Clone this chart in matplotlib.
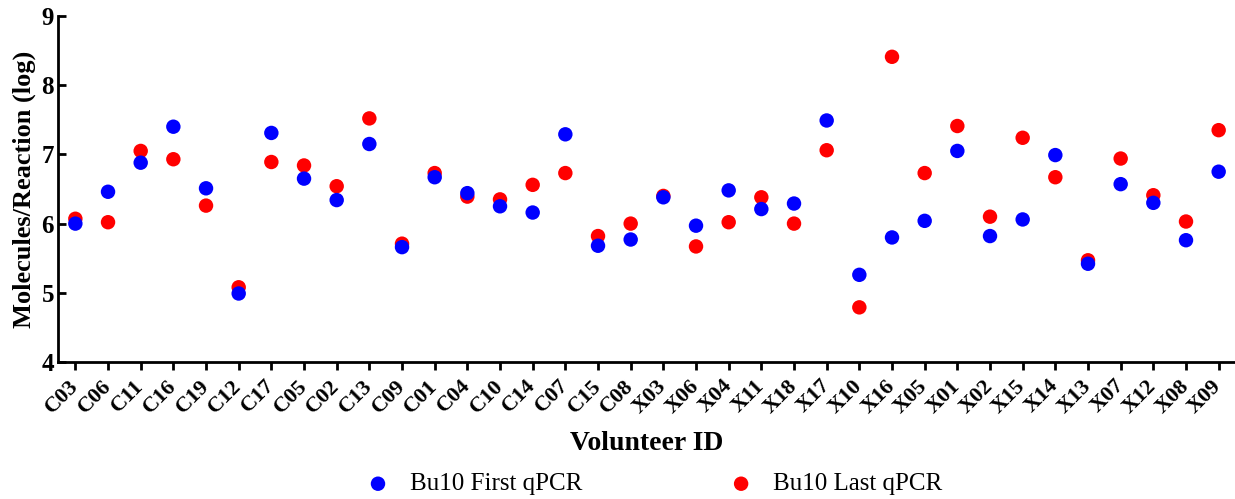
import matplotlib.pyplot as plt
import numpy as np

# Volunteer IDs in plotting order
volunteers = ['C03', 'C06', 'C11', 'C16', 'C19', 'C12', 'C17', 'C05', 'C02', 'C13',
              'C09', 'C01', 'C04', 'C10', 'C14', 'C07', 'C15', 'C08', 'X03', 'X06',
              'X04', 'X11', 'X18', 'X17', 'X10', 'X16', 'X05', 'X01', 'X02', 'X15',
              'X14', 'X13', 'X07', 'X12', 'X08', 'X09']

# log molecules per reaction
first_qpcr = [6.00, 6.46, 6.88, 7.40, 6.51, 4.99, 7.31, 6.65, 6.34, 7.15,
              5.66, 6.67, 6.44, 6.25, 6.16, 7.29, 5.68, 5.77, 6.38, 5.97,
              6.48, 6.21, 6.29, 7.49, 5.26, 5.80, 6.04, 7.05, 5.82, 6.06,
              6.99, 5.42, 6.57, 6.30, 5.76, 6.75]
last_qpcr = [6.07, 6.02, 7.05, 6.93, 6.26, 5.08, 6.89, 6.84, 6.54, 7.52,
             5.71, 6.73, 6.39, 6.35, 6.56, 6.73, 5.82, 6.00, 6.40, 5.67,
             6.02, 6.38, 6.00, 7.06, 4.79, 8.41, 6.73, 7.41, 6.10, 7.24,
             6.67, 5.47, 6.94, 6.41, 6.03, 7.35]

plt.rcParams['font.family'] = ['Liberation Serif', 'DejaVu Serif']

fig = plt.figure(figsize=(12.35, 4.99), dpi=100)
ax = fig.add_axes([0.047, 0.2745, 0.953, 0.6935])

x = np.arange(len(volunteers))
ax.scatter(x, last_qpcr, s=108, color='#ff0000', edgecolors='none',
           label='Bu10 Last qPCR', zorder=3)
ax.scatter(x, first_qpcr, s=108, color='#0000ff', edgecolors='none',
           label='Bu10 First qPCR', zorder=4)

ax.set_xlim(-0.53, len(volunteers) - 0.5)
ax.set_ylim(4, 9)
ax.set_yticks([4, 5, 6, 7, 8, 9])
ax.set_xticks(x)
ax.set_xticklabels(volunteers, rotation=45, ha='right', va='center',
                   rotation_mode='anchor', fontsize=16, fontweight='bold')
for lab in ax.get_yticklabels():
    lab.set_fontsize(18)
    lab.set_fontweight('bold')

for side in ['top', 'right']:
    ax.spines[side].set_visible(False)
for side in ['left', 'bottom']:
    ax.spines[side].set_linewidth(2)
ax.tick_params(axis='x', direction='out', length=6, width=2, pad=9)
ax.tick_params(axis='y', direction='in', length=6, width=2, pad=3)

ax.set_ylabel('Molecules/Reaction (log)', fontsize=19, fontweight='bold', labelpad=4)
ax.set_xlabel('Volunteer ID', fontsize=20, fontweight='bold', labelpad=10)

handles, labels = ax.get_legend_handles_labels()
fig.legend(handles[::-1], labels[::-1], loc='center', bbox_to_anchor=(0.5295, 0.03),
           ncol=2, frameon=False, fontsize=18, handlelength=1, handletextpad=0.78,
           columnspacing=5.85)

fig.savefig('out.png', dpi=100)
